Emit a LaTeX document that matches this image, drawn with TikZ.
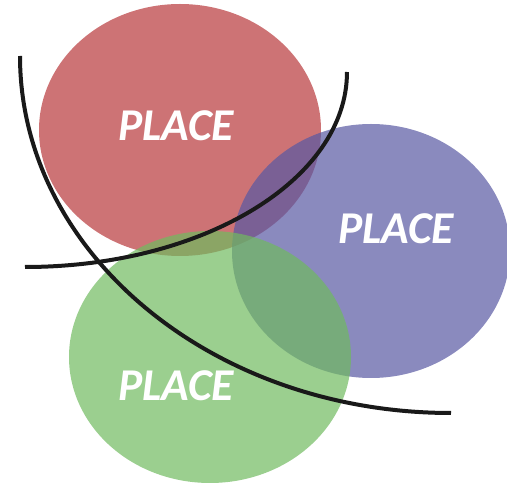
\documentclass[tikz,border=0pt]{standalone}
\usepackage{fontspec}
\setmainfont{Carlito}
\definecolor{cred}{RGB}{184,56,59}
\definecolor{cblue}{RGB}{88,88,162}
\definecolor{cgreen}{RGB}{112,186,95}
\tikzset{
  blob/.style={fill opacity=0.7},
  placetext/.style={text=white, font=\fontsize{45.5}{45.5}\selectfont\bfseries\itshape, inner sep=0pt},
  arcline/.style={line width=4pt, color=black!90}
}
\begin{document}
\begin{tikzpicture}[x=1pt,y=-1pt]
\useasboundingbox (0,0) rectangle (507,486);
\fill[blob, cred] (180,130) ellipse [x radius=141, y radius=126];
\fill[blob, cblue] (371,251) ellipse [x radius=139, y radius=127];
\fill[blob, cgreen] (210,357) ellipse [x radius=141, y radius=126];
\coordinate (c1s) at (20,56);
\coordinate (c2s) at (25,267);
\draw[arcline] (c1s) arc [start angle=180, end angle=270, x radius=431, y radius=-357] coordinate (c1e);
\draw[arcline] (c2s) arc [start angle=270, end angle=360, x radius=322, y radius=-195] coordinate (c2e);
\node[placetext] (red) at (176,126) {PLACE};
\node[placetext] (blue) at (396,229) {PLACE};
\node[placetext] (green) at (176,386) {PLACE};
\end{tikzpicture}
\end{document}
